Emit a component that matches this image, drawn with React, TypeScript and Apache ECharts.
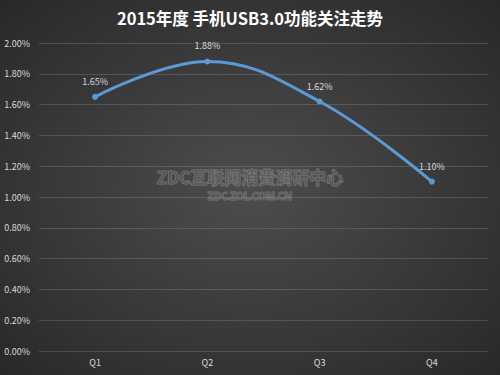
import React, { useEffect, useRef } from "react";
import * as echarts from "echarts";

const categories = ["Q1", "Q2", "Q3", "Q4"];
const values = [1.65, 1.88, 1.62, 1.1];
const yTicks = { min: 0, max: 2, interval: 0.2 };
const titleText = "2015年度 手机USB3.0功能关注走势";

export default function App() {
  const ref = useRef<HTMLDivElement>(null);
  useEffect(() => {
    document.body.style.margin = "0";
    if (!ref.current) return;
    const chart = echarts.init(ref.current, null, { renderer: "svg" });
    const font = "'Noto Sans CJK SC', 'Noto Sans', sans-serif";
    chart.setOption({
      animation: false,
      backgroundColor: {
        type: "radial",
        x: 0.5,
        y: 0.5,
        r: 0.75,
        colorStops: [
          { offset: 0, color: "#4d4d4d" },
          { offset: 1, color: "#262626" },
        ],
      },
      title: {
        text: titleText,
        left: "center",
        top: 5,
        textStyle: { color: "#ffffff", fontSize: 16.5, fontWeight: "bold", fontFamily: font },
      },
      grid: { left: 39, right: 12, top: 43, bottom: 24, containLabel: false },
      xAxis: {
        type: "category",
        data: categories,
        boundaryGap: true,
        axisLine: { show: false },
        axisTick: { show: false },
        axisLabel: { color: "#d9d9d9", fontSize: 9, fontFamily: font, margin: 7 },
      },
      yAxis: {
        type: "value",
        min: yTicks.min,
        max: yTicks.max,
        interval: yTicks.interval,
        axisLine: { show: false },
        axisTick: { show: false },
        splitLine: { lineStyle: { color: "rgba(255,255,255,0.14)", width: 1 } },
        axisLabel: {
          color: "#d9d9d9",
          fontSize: 9,
          fontFamily: font,
          margin: 9,
          formatter: (v: number) => v.toFixed(2) + "%",
        },
      },
      graphic: [
        {
          type: "text",
          left: "center",
          top: 167,
          style: {
            text: "ZDC互联网消费调研中心",
            fill: "rgba(90,90,90,0.6)",
            stroke: "rgba(150,150,150,0.7)",
            lineWidth: 1,
            font: "bold 17px 'Noto Sans CJK SC', sans-serif",
          },
        },
        {
          type: "text",
          left: "center",
          top: 191,
          style: {
            text: "ZDC.ZOL.COM.CN",
            fill: "rgba(90,90,90,0.6)",
            stroke: "rgba(150,150,150,0.7)",
            lineWidth: 0.8,
            font: "bold 10px 'Noto Sans', sans-serif",
          },
        },
      ],
      series: [
        {
          type: "line",
          data: values,
          smooth: 0.4,
          symbol: "circle",
          symbolSize: 6,
          lineStyle: { color: "#5b9bd5", width: 3 },
          itemStyle: { color: "#5b9bd5" },
          label: {
            show: true,
            position: "top",
            distance: 8,
            color: "#d9d9d9",
            fontSize: 9,
            fontFamily: font,
            formatter: (p: any) => p.value.toFixed(2) + "%",
          },
        },
      ],
    });
    return () => chart.dispose();
  }, []);
  return <div ref={ref} style={{ width: 500, height: 375 }} />;
}
